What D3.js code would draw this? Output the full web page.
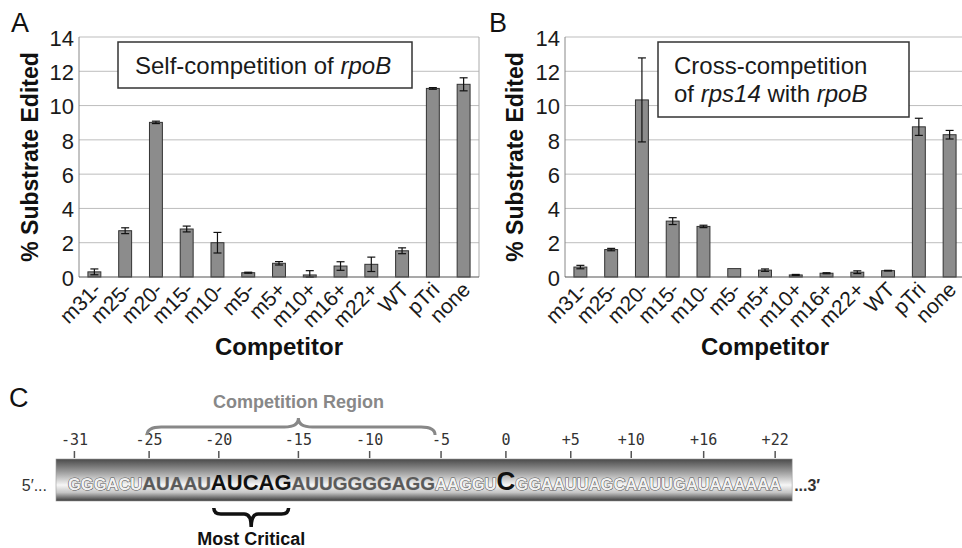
<!DOCTYPE html>
<html>
<head>
<meta charset="utf-8">
<script src="https://cdn.jsdelivr.net/npm/d3@7"></script>
<style>
  body { margin: 0; background: #fff; }
  svg { display: block; }
</style>
</head>
<body>
<svg id="chart" width="962" height="548"></svg>
<script>
// competitors on the x axis (same for A and B)
const competitors = ['m31-', 'm25-', 'm20-', 'm15-', 'm10-', 'm5-', 'm5+', 'm10+', 'm16+', 'm22+', 'WT', 'pTri', 'none']

// A: self-competition of rpoB
const selfMean = [0.3, 2.7, 9.02, 2.8, 2.0, 0.25, 0.8, 0.12, 0.64, 0.74, 1.53, 11.0, 11.24]
const selfErr = [0.17, 0.17, 0.07, 0.17, 0.6, 0.03, 0.1, 0.25, 0.25, 0.42, 0.17, 0.05, 0.38]

// B: cross-competition of rps14 with rpoB
const crossMean = [0.58, 1.6, 10.33, 3.26, 2.95, 0.49, 0.4, 0.12, 0.22, 0.28, 0.37, 8.76, 8.3]
const crossErr = [0.1, 0.07, 2.45, 0.2, 0.07, 0.0, 0.07, 0.03, 0.03, 0.08, 0.02, 0.5, 0.25]

const yTicks = [0, 2, 4, 6, 8, 10, 12, 14]

// C: rpoB sequence around the edited C (position 0)
const seqSegments = ['GGGACU', 'AUAAU', 'AUCAG', 'AUUGGGGAGG', 'AAGGU', 'C', 'GGAAUUAGCAAUUGAUAAAAAA']
const seqKinds = ['flank', 'region', 'critical', 'region', 'flank', 'edited', 'flank']
const seqStart = -31
const positionTicks = [-31, -25, -20, -15, -10, -5, 0, 5, 10, 16, 22]
const competitionRegion = [-25, -15, -5] // start, tip, end
const criticalRegion = [-20, -16]

const sans = '"Liberation Sans", Arial, sans-serif'
const svg = d3.select('#chart')

svg.append('rect').attr('width', 962).attr('height', 548).attr('fill', '#fff')

function drawPanel(opt) {
  const { left, right, top, bottom, means, errs, letter, letterX, titleX, box, lines } = opt

  const x = d3.scaleBand()
    .domain(competitors)
    .range([left, right])
    .paddingInner(0.58)
    .paddingOuter(0.29)

  const y = d3.scaleLinear().domain([0, 14]).range([bottom, top])

  const g = svg.append('g')

  // gridlines
  g.append('g')
    .selectAll('line')
    .data(yTicks.filter((d) => d > 0))
    .join('line')
    .attr('x1', left)
    .attr('x2', right)
    .attr('y1', (d) => y(d))
    .attr('y2', (d) => y(d))
    .attr('stroke', '#bdbdbd')
    .attr('stroke-width', 1)

  // frame
  g.append('line').attr('x1', right).attr('x2', right).attr('y1', top).attr('y2', bottom)
    .attr('stroke', '#aaa')
  g.append('line').attr('x1', left).attr('x2', left).attr('y1', top).attr('y2', bottom)
    .attr('stroke', '#888')

  // bars
  const data = competitors.map((c, i) => ({ c, v: means[i], e: errs[i] }))
  g.append('g')
    .selectAll('rect')
    .data(data)
    .join('rect')
    .attr('x', (d) => x(d.c))
    .attr('y', (d) => y(d.v))
    .attr('width', x.bandwidth())
    .attr('height', (d) => bottom - y(d.v))
    .attr('fill', '#8c8c8c')
    .attr('stroke', '#333')
    .attr('stroke-width', 1)

  // error bars
  const eb = g.append('g')
    .attr('stroke', '#111')
    .attr('stroke-width', 1.2)
    .selectAll('g')
    .data(data.filter((d) => d.e > 0))
    .join('g')
  const cx = (d) => x(d.c) + x.bandwidth() / 2
  eb.append('line').attr('x1', cx).attr('x2', cx)
    .attr('y1', (d) => y(d.v + d.e)).attr('y2', (d) => y(Math.max(0, d.v - d.e)))
  eb.append('line').attr('x1', (d) => cx(d) - 4).attr('x2', (d) => cx(d) + 4)
    .attr('y1', (d) => y(d.v + d.e)).attr('y2', (d) => y(d.v + d.e))
  eb.append('line').attr('x1', (d) => cx(d) - 4).attr('x2', (d) => cx(d) + 4)
    .attr('y1', (d) => y(Math.max(0, d.v - d.e))).attr('y2', (d) => y(Math.max(0, d.v - d.e)))

  // x axis baseline
  g.append('line').attr('x1', left).attr('x2', right).attr('y1', bottom).attr('y2', bottom)
    .attr('stroke', '#555').attr('stroke-width', 1.2)

  // y tick labels
  g.append('g')
    .attr('font-family', sans)
    .attr('font-size', 22)
    .attr('fill', '#1a1a1a')
    .attr('text-anchor', 'end')
    .selectAll('text')
    .data(yTicks)
    .join('text')
    .attr('x', left - 5)
    .attr('y', (d) => y(d) + 1)
    .attr('dy', '0.35em')
    .text((d) => d)

  // x tick labels
  g.append('g')
    .attr('font-family', sans)
    .attr('font-size', 21)
    .attr('fill', '#1a1a1a')
    .attr('text-anchor', 'end')
    .selectAll('text')
    .data(competitors)
    .join('text')
    .attr('transform', (d) => `translate(${x(d) + x.bandwidth() / 2 + 8},${bottom + 14}) rotate(-45)`)
    .text((d) => d)

  // axis titles
  g.append('text')
    .attr('transform', `translate(${titleX},${(top + bottom) / 2}) rotate(-90)`)
    .attr('text-anchor', 'middle')
    .attr('font-family', sans)
    .attr('font-weight', 'bold')
    .attr('font-size', 23)
    .attr('fill', '#111')
    .text('% Substrate Edited')

  g.append('text')
    .attr('x', (left + right) / 2)
    .attr('y', 355)
    .attr('text-anchor', 'middle')
    .attr('font-family', sans)
    .attr('font-weight', 'bold')
    .attr('font-size', 24)
    .attr('fill', '#111')
    .text('Competitor')

  // panel letter
  g.append('text')
    .attr('x', letterX)
    .attr('y', 32)
    .attr('font-family', sans)
    .attr('font-size', 27)
    .attr('fill', '#111')
    .text(letter)

  // legend box
  g.append('rect')
    .attr('x', box[0]).attr('y', box[1]).attr('width', box[2]).attr('height', box[3])
    .attr('fill', '#fff')
    .attr('stroke', '#333')
    .attr('stroke-width', 1.5)

  const lt = g.append('g')
    .attr('font-family', sans)
    .attr('font-size', 24)
    .attr('fill', '#1a1a1a')
  lines.forEach((line, i) => {
    const t = lt.append('text').attr('x', box[0] + opt.textPad).attr('y', 74 + i * 28)
    line.forEach(([s, it]) => {
      t.append('tspan').attr('font-style', it ? 'italic' : 'normal').text(s)
    })
  })
}

drawPanel({
  left: 79, right: 479, top: 37, bottom: 277,
  means: selfMean, errs: selfErr,
  letter: 'A', letterX: 11, titleX: 38,
  box: [118, 42, 294, 46], textPad: 17,
  lines: [[['Self-competition of ', false], ['rpoB', true]]],
})

drawPanel({
  left: 565, right: 965, top: 37, bottom: 277,
  means: crossMean, errs: crossErr,
  letter: 'B', letterX: 489, titleX: 523,
  box: [658, 42, 251, 75], textPad: 16,
  lines: [[['Cross-competition', false]], [['of ', false], ['rps14', true], [' with ', false], ['rpoB', true]]],
})

// ---- panel C ----
const defs = svg.append('defs')
const grad = defs.append('linearGradient')
  .attr('id', 'tube')
  .attr('x1', 0).attr('y1', 0).attr('x2', 0).attr('y2', 1)
const gradStops = [[0, '#4a4a4a'], [0.3, '#9a9a9a'], [0.62, '#f6f6f6'], [0.8, '#c4c4c4'], [1, '#3a3a3a']]
grad.selectAll('stop')
  .data(gradStops)
  .join('stop')
  .attr('offset', (d) => d[0])
  .attr('stop-color', (d) => d[1])

const seqStyle = {
  flank: { size: 16.5, fill: '#f2f2f2', stroke: '#555', sw: 1.1 },
  region: { size: 19, fill: '#5a5a5a', stroke: '#bbb', sw: 0.6 },
  critical: { size: 22, fill: '#111', stroke: 'none', sw: 0 },
  edited: { size: 26, fill: '#111', stroke: 'none', sw: 0 },
}

const gc = svg.append('g')

gc.append('text')
  .attr('x', 9).attr('y', 407)
  .attr('font-family', sans).attr('font-size', 27).attr('fill', '#111')
  .text('C')

const tube = gc.append('rect').attr('fill', 'url(#tube)')

const seqText = gc.append('text')
  .attr('x', 68)
  .attr('y', 490)
  .attr('font-family', sans)
  .attr('font-weight', 'bold')

seqSegments.forEach((s, i) => {
  const st = seqStyle[seqKinds[i]]
  seqText.append('tspan')
    .attr('font-size', st.size)
    .attr('fill', st.fill)
    .attr('stroke', st.stroke)
    .attr('stroke-width', st.sw)
    .attr('paint-order', 'stroke')
    .text(s)
})

// character positions of every nucleotide
const node = seqText.node()
const nChars = seqSegments.join('').length
const charPos = d3.range(nChars).map((i) => ({
  x0: node.getStartPositionOfChar(i).x,
  x1: node.getEndPositionOfChar(i).x,
}))
const posX = (p) => {
  const c = charPos[p - seqStart]
  return (c.x0 + c.x1) / 2
}
const seqLeft = charPos[0].x0
const seqRight = charPos[nChars - 1].x1

tube
  .attr('x', seqLeft - 12)
  .attr('y', 459)
  .attr('width', seqRight - seqLeft + 23)
  .attr('height', 42)
  .attr('stroke', '#999')
  .attr('stroke-width', 0.6)

node.parentNode.appendChild(node) // keep sequence above tube

gc.append('text')
  .attr('x', seqLeft - 21).attr('y', 491)
  .attr('text-anchor', 'end')
  .attr('font-family', sans).attr('font-size', 16).attr('fill', '#333')
  .text('5′...')

gc.append('text')
  .attr('x', seqRight + 13).attr('y', 491)
  .attr('font-family', sans).attr('font-size', 16).attr('font-weight', 'bold').attr('fill', '#333')
  .text('...3′')

// position ticks
gc.append('g')
  .attr('stroke', '#555')
  .attr('stroke-width', 1.5)
  .selectAll('line')
  .data(positionTicks)
  .join('line')
  .attr('x1', posX).attr('x2', posX)
  .attr('y1', 451).attr('y2', 458)

gc.append('g')
  .attr('font-family', '"DejaVu Sans Mono", "Liberation Mono", monospace')
  .attr('font-size', 15)
  .attr('fill', '#333')
  .attr('text-anchor', 'middle')
  .selectAll('text')
  .data(positionTicks)
  .join('text')
  .attr('x', posX)
  .attr('y', 445)
  .text((d) => (d > 0 ? '+' + d : String(d)))

// curly brace: tip direction dir = -1 (up) or +1 (down)
function brace(xa, xb, xm, yEnd, yArm, yTip, r) {
  return `M${xa},${yEnd} Q${xa},${yArm} ${xa + r},${yArm} L${xm - r},${yArm} Q${xm},${yArm} ${xm},${yTip}` +
    ` Q${xm},${yArm} ${xm + r},${yArm} L${xb - r},${yArm} Q${xb},${yArm} ${xb},${yEnd}`
}

const [cr0, crTip, cr1] = competitionRegion
gc.append('path')
  .attr('d', brace(posX(cr0) - 2, posX(cr1) - 6, posX(crTip), 435, 427, 418, 14))
  .attr('fill', 'none')
  .attr('stroke', '#888')
  .attr('stroke-width', 3)

gc.append('text')
  .attr('x', posX(crTip))
  .attr('y', 408)
  .attr('text-anchor', 'middle')
  .attr('font-family', sans).attr('font-weight', 'bold').attr('font-size', 18)
  .attr('fill', '#888')
  .text('Competition Region')

const crit0 = charPos[criticalRegion[0] - seqStart].x0 + 3
const crit1 = charPos[criticalRegion[1] - seqStart].x1 - 3
const critMid = (crit0 + crit1) / 2
gc.append('path')
  .attr('d', brace(crit0, crit1, critMid, 508, 514, 527, 7))
  .attr('fill', 'none')
  .attr('stroke', '#111')
  .attr('stroke-width', 3.5)

gc.append('text')
  .attr('x', critMid)
  .attr('y', 545)
  .attr('text-anchor', 'middle')
  .attr('font-family', sans).attr('font-weight', 'bold').attr('font-size', 18)
  .attr('fill', '#111')
  .text('Most Critical')
</script>
</body>
</html>
